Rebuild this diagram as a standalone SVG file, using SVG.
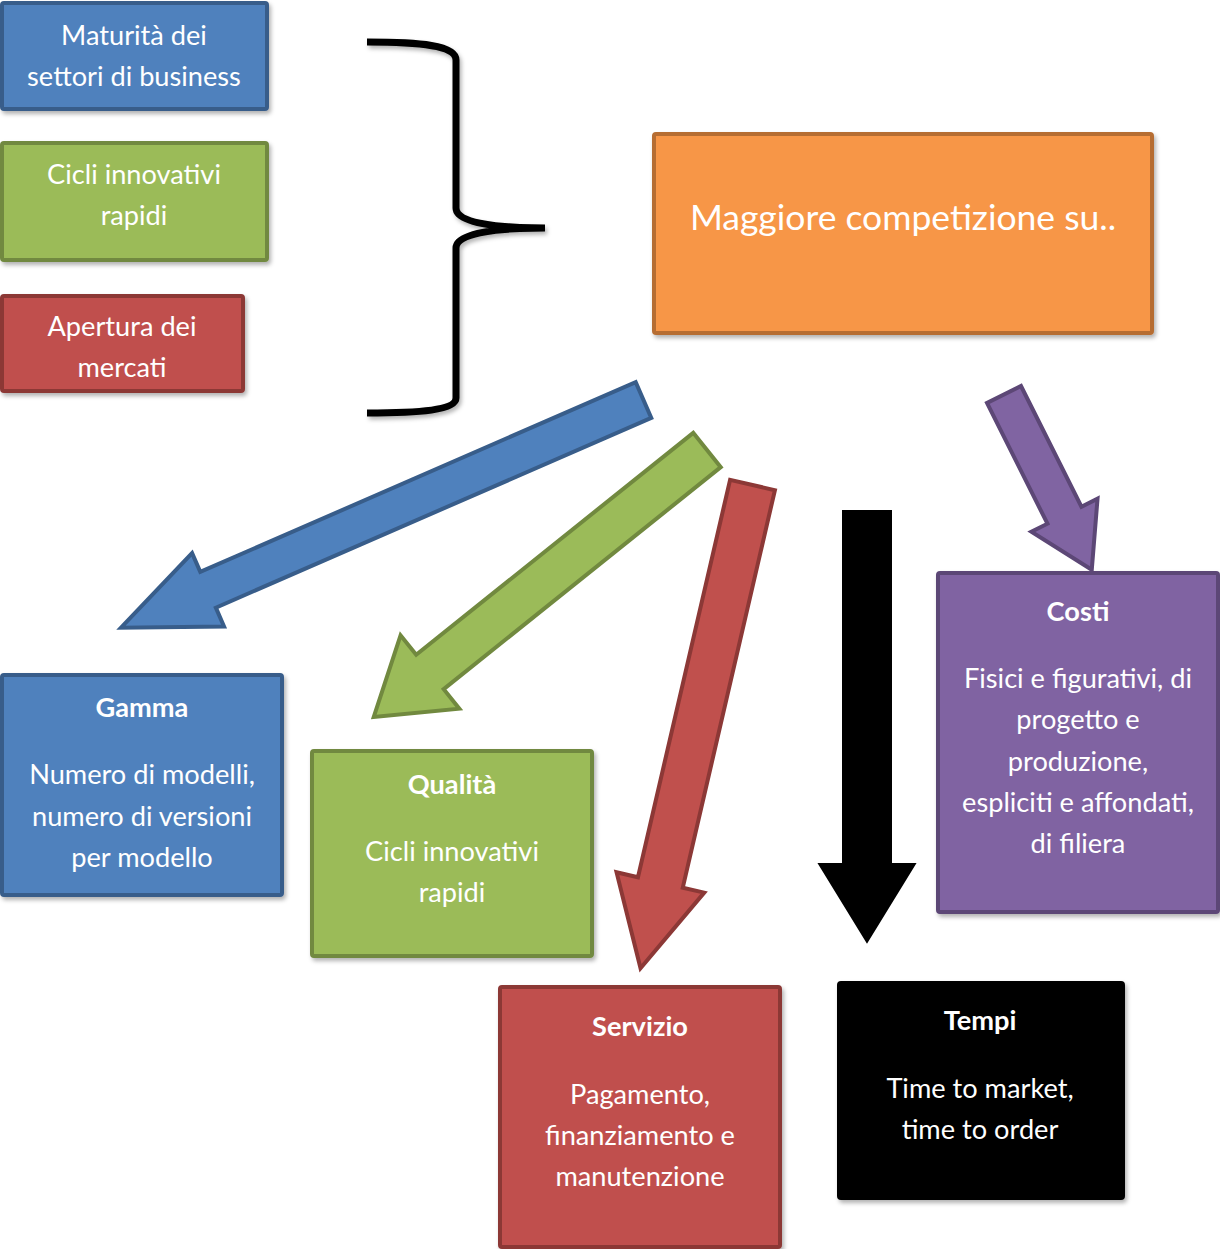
<svg xmlns="http://www.w3.org/2000/svg" width="1220" height="1249" viewBox="0 0 1220 1249">
  <defs>
    <filter id="shadow" x="-10%" y="-10%" width="130%" height="130%">
      <feDropShadow dx="2" dy="3" stdDeviation="2" flood-color="#000" flood-opacity="0.3"/>
    </filter>
    <style>
      .box { stroke-width: 4; filter: url(#shadow); }
      .arrow { stroke-width: 4; stroke-linejoin: miter; }
      .blue { fill: #4f81bd; stroke: #385d8a; }
      .green { fill: #9bbb59; stroke: #71893f; }
      .red { fill: #c0504d; stroke: #8c3836; }
      .purple { fill: #8064a2; stroke: #5c4776; }
      .orange { fill: #f79646; stroke: #b66d31; }
      .black { fill: #000; stroke: #000; }
      text { font-family: Lato, "Open Sans", "Liberation Sans", sans-serif; fill: #fff; text-anchor: middle; font-size: 27.2px; }
      .title { font-weight: bold; }
      .big { font-size: 35.5px; }
    </style>
  </defs>

  <!-- source factors -->
  <g id="maturita">
    <rect class="box blue" x="2" y="3" width="265" height="106" rx="2"/>
    <text x="134" y="45">Maturità dei</text>
    <text x="134" y="86">settori di business</text>
  </g>
  <g id="cicli">
    <rect class="box green" x="2" y="143" width="265" height="117" rx="2"/>
    <text x="134" y="184">Cicli innovativi</text>
    <text x="134" y="225">rapidi</text>
  </g>
  <g id="apertura">
    <rect class="box red" x="2" y="296" width="241" height="95" rx="2"/>
    <text x="122" y="336">Apertura dei</text>
    <text x="122" y="377">mercati</text>
  </g>

  <!-- brace gathering the factors -->
  <path id="brace" d="M367,42 C420,42 456,45 456,60 L456,208 C456,222 490,228 545,228 C490,228 456,234 456,248 L456,398 C456,410 420,413 367,413" fill="none" stroke="#000" stroke-width="7" filter="url(#shadow)"/>

  <g id="competizione">
    <rect class="box orange" x="654" y="134" width="498" height="199" rx="2"/>
    <text class="big" x="903" y="230">Maggiore competizione su..</text>
  </g>

  <!-- block arrows -->
  <g id="connectors">
    <polygon class="arrow blue" transform="translate(643.5,400) rotate(156.45)" points="0,-19.5 475,-19.5 475,-40 570,0 475,40 475,19.5 0,19.5"/>
    <polygon class="arrow green" transform="translate(707,450) rotate(141.3)" points="0,-22 355,-22 355,-47 427,0 355,47 355,22 0,22"/>
    <polygon class="arrow red" transform="translate(752.5,485) rotate(103.05)" points="0,-23 408,-23 408,-45 496,0 408,45 408,23 0,23"/>
    <polygon class="arrow black" points="844,512 890,512 890,865 913,865 867,940 821,865 844,865"/>
    <polygon class="arrow purple" transform="translate(1004,394.5) rotate(63.4)" points="0,-19 135,-19 135,-37 196,0 135,37 135,19 0,19"/>
  </g>

  <!-- outcome boxes -->
  <g id="gamma">
    <rect class="box blue" x="2" y="675" width="280" height="220" rx="2"/>
    <text class="title" x="142" y="717">Gamma</text>
    <text x="142" y="784">Numero di modelli,</text>
    <text x="142" y="826">numero di versioni</text>
    <text x="142" y="867">per modello</text>
  </g>
  <g id="qualita">
    <rect class="box green" x="312" y="751" width="280" height="205" rx="2"/>
    <text class="title" x="452" y="794">Qualità</text>
    <text x="452" y="861">Cicli innovativi</text>
    <text x="452" y="902">rapidi</text>
  </g>
  <g id="servizio">
    <rect class="box red" x="500" y="987" width="280" height="260" rx="2"/>
    <text class="title" x="640" y="1036">Servizio</text>
    <text x="640" y="1104">Pagamento,</text>
    <text x="640" y="1145">finanziamento e</text>
    <text x="640" y="1186">manutenzione</text>
  </g>
  <g id="tempi">
    <rect class="box black" x="839" y="983" width="284" height="215" rx="2"/>
    <text class="title" x="980" y="1030">Tempi</text>
    <text x="980" y="1098">Time to market,</text>
    <text x="980" y="1139">time to order</text>
  </g>
  <g id="costi">
    <rect class="box purple" x="938" y="573" width="280" height="339" rx="2"/>
    <text class="title" x="1078" y="621">Costi</text>
    <text x="1078" y="688">Fisici e figurativi, di</text>
    <text x="1078" y="729">progetto e</text>
    <text x="1078" y="771">produzione,</text>
    <text x="1078" y="812">espliciti e affondati,</text>
    <text x="1078" y="853">di filiera</text>
  </g>
</svg>
